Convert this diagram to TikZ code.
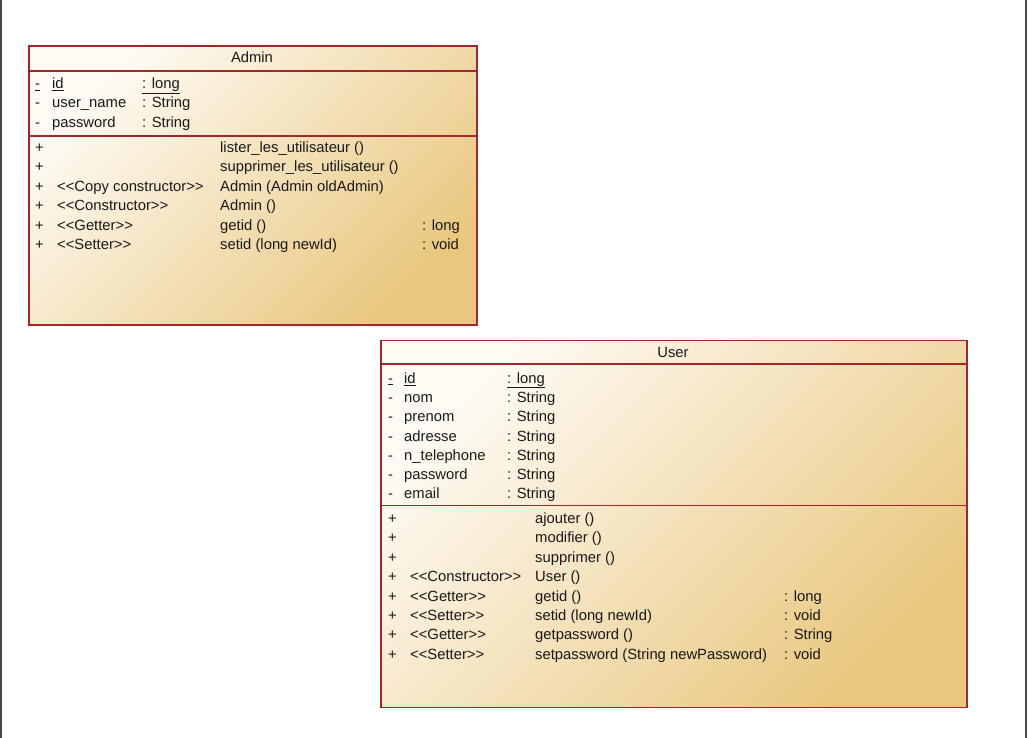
\documentclass[tikz,border=0pt]{standalone}
\usepackage{fontspec}
\setmainfont{Liberation Sans}
\definecolor{cbord}{HTML}{A3262B}
\definecolor{clight}{HTML}{FEFBF4}
\definecolor{cdark}{HTML}{E9C77F}
\definecolor{cframe}{HTML}{4A4A4A}
\begin{document}
\begin{tikzpicture}[x=1pt,y=-1pt,
  classbox/.style={draw=cbord, line width=1.9pt, top color=clight, bottom color=cdark, shading angle=45, inner sep=0pt, anchor=north west},
  sepline/.style={draw=cbord, line width=1.9pt},
  txt/.style={anchor=base west, inner sep=0pt, font=\fontsize{14.8}{17}\selectfont, text=black!90},
  ttl/.style={anchor=base, inner sep=0pt, font=\fontsize{14.8}{17}\selectfont, text=black!90},
  framel/.style={draw=cframe, line width=2pt}]
\useasboundingbox (0,0) rectangle (1028,738);
% outer frame sides
\coordinate (ftl) at (1,0); \coordinate (fbl) at (1,738);
\coordinate (ftr) at (1026,0); \coordinate (fbr) at (1026,738);
\draw[framel] (ftl) -- (fbl);
\draw[framel] (ftr) -- (fbr);

% ===== Admin =====
\node[classbox, minimum width=448pt, minimum height=279pt] (admin) at (28,45) {};
\coordinate (as1l) at (28,71); \coordinate (as1r) at (476,71);
\coordinate (as2l) at (28,136); \coordinate (as2r) at (476,136);
\draw[sepline] (as1l) -- (as1r);
\draw[sepline] (as2l) -- (as2r);
\node[ttl] (atitle) at (252,62.5) {Admin};
% attributes
\node[txt] (aa1v) at (35,88.5) {\underline{-}};
\node[txt] (aa1n) at (52,88.5) {\underline{id}};
\node[txt] (aa1t) at (142,88.5) {\underline{: long}};
\node[txt] (aa2v) at (35,107.9) {-};
\node[txt] (aa2n) at (52,107.9) {user\_name};
\node[txt] (aa2t) at (142,107.9) {: String};
\node[txt] (aa3v) at (35,127.3) {-};
\node[txt] (aa3n) at (52,127.3) {password};
\node[txt] (aa3t) at (142,127.3) {: String};
% methods
\node[txt] (am1v) at (35,152.5) {+};
\node[txt] (am1n) at (220,152.5) {lister\_les\_utilisateur ()};
\node[txt] (am2v) at (35,171.9) {+};
\node[txt] (am2n) at (220,171.9) {supprimer\_les\_utilisateur ()};
\node[txt] (am3v) at (35,191.3) {+};
\node[txt] (am3s) at (57,191.3) {<{}<Copy constructor>{}>};
\node[txt] (am3n) at (220,191.3) {Admin (Admin oldAdmin)};
\node[txt] (am4v) at (35,210.7) {+};
\node[txt] (am4s) at (57,210.7) {<{}<Constructor>{}>};
\node[txt] (am4n) at (220,210.7) {Admin ()};
\node[txt] (am5v) at (35,230.1) {+};
\node[txt] (am5s) at (57,230.1) {<{}<Getter>{}>};
\node[txt] (am5n) at (220,230.1) {getid ()};
\node[txt] (am5t) at (422,230.1) {: long};
\node[txt] (am6v) at (35,249.5) {+};
\node[txt] (am6s) at (57,249.5) {<{}<Setter>{}>};
\node[txt] (am6n) at (220,249.5) {setid (long newId)};
\node[txt] (am6t) at (422,249.5) {: void};

% ===== User =====
\node[classbox, minimum width=586pt, minimum height=367pt] (user) at (380,339.5) {};
\coordinate (us1l) at (380,364); \coordinate (us1r) at (966,364);
\coordinate (us2l) at (380,505.5); \coordinate (us2r) at (966,505.5);
\draw[sepline] (us1l) -- (us1r);
\draw[sepline] (us2l) -- (us2r);
\node[ttl] (utitle) at (673,357) {User};
% attributes
\node[txt] (ua1v) at (388,383.2) {\underline{-}};
\node[txt] (ua1n) at (404,383.2) {\underline{id}};
\node[txt] (ua1t) at (507,383.2) {\underline{: long}};
\node[txt] (ua2v) at (388,402.5) {-};
\node[txt] (ua2n) at (404,402.5) {nom};
\node[txt] (ua2t) at (507,402.5) {: String};
\node[txt] (ua3v) at (388,421.7) {-};
\node[txt] (ua3n) at (404,421.7) {prenom};
\node[txt] (ua3t) at (507,421.7) {: String};
\node[txt] (ua4v) at (388,441) {-};
\node[txt] (ua4n) at (404,441) {adresse};
\node[txt] (ua4t) at (507,441) {: String};
\node[txt] (ua5v) at (388,460.2) {-};
\node[txt] (ua5n) at (404,460.2) {n\_telephone};
\node[txt] (ua5t) at (507,460.2) {: String};
\node[txt] (ua6v) at (388,479.5) {-};
\node[txt] (ua6n) at (404,479.5) {password};
\node[txt] (ua6t) at (507,479.5) {: String};
\node[txt] (ua7v) at (388,498.7) {-};
\node[txt] (ua7n) at (404,498.7) {email};
\node[txt] (ua7t) at (507,498.7) {: String};
% methods
\node[txt] (um1v) at (388,523.5) {+};
\node[txt] (um1n) at (535,523.5) {ajouter ()};
\node[txt] (um2v) at (388,542.9) {+};
\node[txt] (um2n) at (535,542.9) {modifier ()};
\node[txt] (um3v) at (388,562.3) {+};
\node[txt] (um3n) at (535,562.3) {supprimer ()};
\node[txt] (um4v) at (388,581.7) {+};
\node[txt] (um4s) at (410,581.7) {<{}<Constructor>{}>};
\node[txt] (um4n) at (535,581.7) {User ()};
\node[txt] (um5v) at (388,601.1) {+};
\node[txt] (um5s) at (410,601.1) {<{}<Getter>{}>};
\node[txt] (um5n) at (535,601.1) {getid ()};
\node[txt] (um5t) at (784,601.1) {: long};
\node[txt] (um6v) at (388,620.5) {+};
\node[txt] (um6s) at (410,620.5) {<{}<Setter>{}>};
\node[txt] (um6n) at (535,620.5) {setid (long newId)};
\node[txt] (um6t) at (784,620.5) {: void};
\node[txt] (um7v) at (388,639.9) {+};
\node[txt] (um7s) at (410,639.9) {<{}<Getter>{}>};
\node[txt] (um7n) at (535,639.9) {getpassword ()};
\node[txt] (um7t) at (784,639.9) {: String};
\node[txt] (um8v) at (388,659.3) {+};
\node[txt] (um8s) at (410,659.3) {<{}<Setter>{}>};
\node[txt] (um8n) at (535,659.3) {setpassword (String newPassword)};
\node[txt] (um8t) at (784,659.3) {: void};
\end{tikzpicture}
\end{document}
